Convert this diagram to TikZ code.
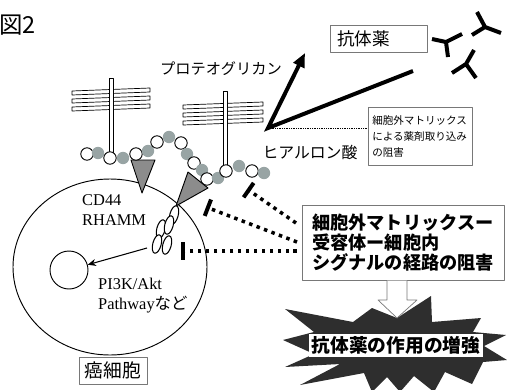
\documentclass[tikz,border=0pt]{standalone}
\usepackage{fontspec}
\setmainfont{Liberation Serif}
\newfontfamily\jp{Noto Sans CJK JP}
\usetikzlibrary{arrows.meta}
\definecolor{beadgray}{RGB}{152,164,164}
\definecolor{trigray}{RGB}{140,140,140}
\definecolor{framegray}{RGB}{120,120,120}

\begin{document}
\begin{tikzpicture}[
  x=0.03cm, y=-0.03cm, line join=round,
  wbead/.style={draw, fill=white, line width=0.8pt},
  gbead/.style={fill=beadgray},
  pgbar/.style={draw, fill=white, line width=0.6pt},
  receptor/.style={draw, fill=trigray, line width=0.8pt},
  oval/.style={draw, fill=white, line width=0.9pt},
  frame/.style={draw=framegray, line width=0.6pt, fill=white},
  blocker/.style={line width=3pt, dash pattern=on 3pt off 3.8pt,
    -{Bar[width=15pt, line width=3.4pt]}},
  antibody/.style={line width=3.4pt},
]
  \useasboundingbox (0,0) rectangle (507,389);

  \node[anchor=west, inner sep=0, font=\jp\fontsize{20}{24}\selectfont] (title) at (-1,25) {図2};

  % 细胞与细胞核
  \draw[line width=0.8pt] (110,267) ellipse[x radius=97, y radius=88];
  \node[draw, circle, line width=0.8pt, inner sep=0, minimum size=1.14cm] (nuc) at (69,270) {};
  \node[frame, minimum width=2.04cm, minimum height=0.81cm,
    font=\jp\fontsize{16}{19}\selectfont] (cancer) at (113,370.5) {癌細胞};

  % 蛋白聚糖
  \foreach \d in {0,8,16}
    \draw[pgbar] (72,91+\d) -- (150,88+\d) -- (150,92+\d) -- (72,95+\d) -- cycle;
  \draw[pgbar] (109,78) rectangle (113,152);
  \foreach \d in {0,8,16}
    \draw[pgbar] (183,105+\d) -- (263,102+\d) -- (263,106+\d) -- (183,109+\d) -- cycle;
  \draw[pgbar] (223,91) rectangle (227,165);
  \node[font=\jp\fontsize{13}{16}\selectfont] (pglabel) at (221,69) {プロテオグリカン};

  % 受体
  \draw[receptor] (131,160) -- (155,160) -- (142,193) -- cycle;
  \draw[receptor] (188,172) -- (208,188) -- (176,206) -- cycle;
  \foreach \x/\y in {174/215, 161/229, 169/225, 157/244, 167/245}
    \draw[oval, rotate around={-15:(\x,\y)}] (\x,\y) ellipse[x radius=4.2, y radius=9.5];

  % 透明质酸链
  \foreach \x/\y [count=\i] in {87/154, 98/153, 110/158, 123/158, 136/154, 148/151,
      157/142, 169/137, 181/143, 187/154, 194/163, 202/170, 207/179, 218/178,
      226/171, 239/166, 252/171, 264/173}{
    \ifodd\i \path[wbead] (\x,\y) circle[radius=6.2];
    \else \path[gbead] (\x,\y) circle[radius=6.2]; \fi
  }

  \node[anchor=west, inner sep=0, align=left, font=\fontsize{14}{17.6}\selectfont]
    (cd44) at (82,210) {CD44\\RHAMM};
  \node[anchor=west, inner sep=0, align=left, font=\fontsize{14}{17}\selectfont]
    (pi3k) at (98,295.5) {PI3K/Akt\\Pathway{\jp など}};
  \coordinate (rcpt) at (147,248);
  \draw[line width=0.9pt, -{Stealth[length=7pt, width=6pt]}] (rcpt) -- (nuc);

  % 抗体药与透明质酸
  \coordinate (ha) at (268,128);
  \coordinate (pgtip) at (305,53);
  \coordinate (abend) at (413,71);
  \draw[line width=3.4pt, line join=miter, {Triangle[length=12pt, width=10pt]}-]
    (pgtip) -- (ha) -- (abend);
  \node[font=\jp\fontsize{13.5}{16}\selectfont] (halabel) at (310,152) {ヒアルロン酸};

  \node[frame, anchor=north west, text width=2.51cm, inner xsep=0.2cm, minimum height=0.81cm,
    align=left, font=\jp\fontsize{15}{18}\selectfont] (drug) at (330,25) {抗体薬};
  \node[frame, anchor=north west, text width=2.88cm, inner xsep=0.12cm, minimum height=1.74cm,
    align=left, font=\jp\fontsize{9}{13.6}\selectfont] (ecm) at (368,107)
    {細胞外マトリックス\\による薬剤取り込み\\の阻害};
  \draw[densely dotted, line width=0.5pt] (ha) -- (ha -| ecm.west);

  \draw[antibody] (432,39) -- (446,42) -- (462,34) (446,42) -- (448,57);
  \draw[antibody] (477,12) -- (485,27) -- (472,35) (485,27) -- (501,33);
  \draw[antibody] (474,50) -- (466,64) -- (452,73) (466,64) -- (476,78);

  % 信号通路的阻断
  \node[frame, anchor=north west, text width=5.46cm, inner xsep=0.3cm, minimum height=2.25cm,
    align=left, font=\jp\bfseries\fontsize{15.5}{17}\selectfont] (sigbox) at (302,205)
    {細胞外マトリックスー\\受容体ー細胞内\\シグナルの経路の阻害};
  \coordinate (sA) at (296,223);
  \coordinate (sB) at (297,242);
  \coordinate (sC) at (297,251);
  \coordinate (eA) at (247,189);
  \coordinate (eB) at (206,207);
  \coordinate (eC) at (181,251);
  \draw[blocker] (sA) -- (eA);
  \draw[blocker] (sB) -- (eB);
  \draw[blocker] (sC) -- (eC);

  % 增强效果
  \fill[black!82] (285,309) -- (353,322) -- (372,308) -- (397,318) -- (431,296) -- (432,322)
    -- (481,318) -- (473,332) -- (506,335) -- (484,346) -- (507,360) -- (483,362)
    -- (472,384) -- (445,372) -- (434,392) -- (414,376) -- (400,392) -- (387,377)
    -- (372,392) -- (364,373) -- (300,385) -- (340,364) -- (285,367) -- (314,354)
    -- (283,340) -- (314,332) -- cycle;
  \node[fill=white, inner sep=2pt, font=\jp\bfseries\fontsize{16}{19}\selectfont]
    (boost) at (396,345.5) {抗体薬の作用の増強};
  \draw[draw=framegray, fill=white, line width=0.6pt] (sigbox.south -| 387,0) -- (387,300)
    -- (378,300) -- (397,318) -- (417,300) -- (407,300) -- (sigbox.south -| 407,0);
\end{tikzpicture}
\end{document}
